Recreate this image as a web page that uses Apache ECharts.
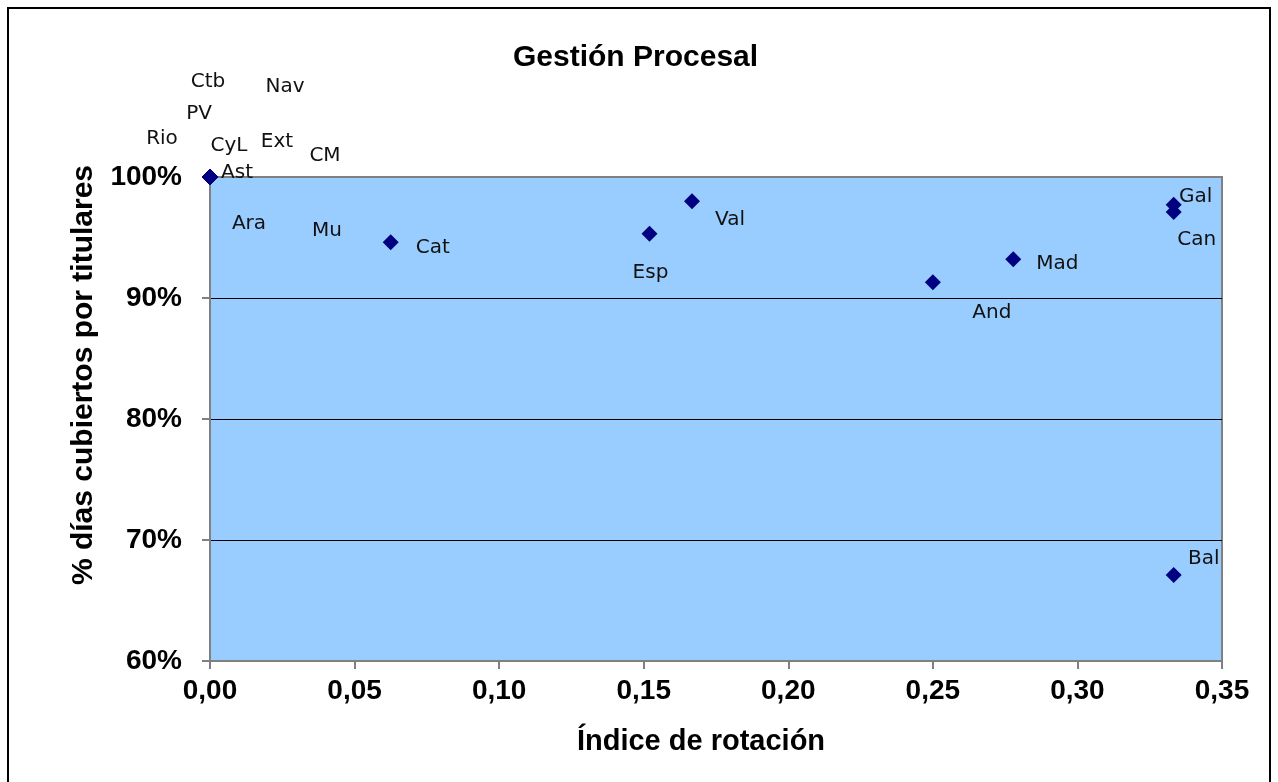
<!DOCTYPE html>
<html>
<head>
<meta charset="utf-8">
<script src="https://cdn.jsdelivr.net/npm/echarts@6/dist/echarts.min.js"></script>
<style>
  html, body { margin: 0; padding: 0; background: #fff; }
  #chart { width: 1278px; height: 782px; }
</style>
</head>
<body>
<div id="chart"></div>
<script>
// comunidades y valores (x = índice de rotación, y = % días cubiertos)
const regions = ['Ctb', 'PV', 'Rio', 'CyL', 'Nav', 'Ext', 'CM', 'Ast', 'Ara', 'Mu',
  'Cat', 'Esp', 'Val', 'And', 'Mad', 'Gal', 'Can', 'Bal'];
const rotation = [0, 0, 0, 0, 0, 0, 0, 0, 0, 0,
  0.0625, 0.152, 0.1667, 0.25, 0.2778, 0.3333, 0.3333, 0.3333];
const coverage = [100, 100, 100, 100, 100, 100, 100, 100, 100, 100,
  94.6, 95.3, 98.0, 91.3, 93.2, 97.7, 97.1, 67.1];
const xTicks = [0, 0.05, 0.1, 0.15, 0.2, 0.25, 0.3, 0.35];
const yTicks = [60, 70, 80, 90, 100];

// desplazamiento de cada etiqueta respecto a su punto (px)
const labelOffsets = {
  Ctb: [-2, -95], PV: [-11, -63], Rio: [-48, -38], CyL: [19, -31],
  Nav: [75, -90], Ext: [67, -35], CM: [115, -21], Ast: [27, -4],
  Ara: [39, 47], Mu: [117, 54], Cat: [42, 5], Esp: [1, 39],
  Val: [38, 19], And: [59, 31], Mad: [44, 5], Gal: [22, -8],
  Can: [23, 28], Bal: [30, -16]
};

const points = regions.map((name, i) => ({
  name: name,
  value: [rotation[i], coverage[i]],
  label: { offset: labelOffsets[name] }
}));

const chart = echarts.init(document.getElementById('chart'));

chart.setOption({
  animation: false,
  backgroundColor: '#fff',
  title: {
    text: 'Gestión Procesal',
    left: 508,
    top: 38,
    textStyle: { fontFamily: 'Liberation Sans, Arial', fontWeight: 'bold', fontSize: 30, color: '#000' }
  },
  grid: {
    left: 210, top: 177, width: 1012, height: 484,
    show: true,
    backgroundColor: '#99ccff',
    borderColor: '#808080',
    borderWidth: 2
  },
  xAxis: {
    type: 'value',
    min: xTicks[0],
    max: xTicks[xTicks.length - 1],
    interval: 0.05,
    axisLine: { show: true, lineStyle: { color: '#808080', width: 2 } },
    axisTick: { show: true, length: 8, lineStyle: { color: '#808080', width: 2 } },
    splitLine: { show: false },
    axisLabel: {
      margin: 16,
      fontFamily: 'Liberation Sans, Arial', fontWeight: 'bold', fontSize: 28, color: '#000',
      formatter: v => v.toFixed(2).replace('.', ',')
    }
  },
  yAxis: {
    type: 'value',
    min: yTicks[0],
    max: yTicks[yTicks.length - 1],
    interval: 10,
    axisLine: { show: true, lineStyle: { color: '#808080', width: 2 } },
    axisTick: { show: true, length: 8, lineStyle: { color: '#808080', width: 2 } },
    splitLine: { show: true, lineStyle: { color: ['#808080', '#000', '#000', '#000', '#808080'], width: 1 } },
    axisLabel: {
      margin: 28,
      fontFamily: 'Liberation Sans, Arial', fontWeight: 'bold', fontSize: 28, color: '#000',
      formatter: v => v + '%'
    }
  },
  graphic: [
    {
      type: 'rect',
      silent: true,
      z: -1,
      shape: { x: 8, y: 8, width: 1262, height: 790 },
      style: { fill: null, stroke: '#000', lineWidth: 2 }
    },
    {
      type: 'text',
      x: 701,
      y: 742,
      style: {
        text: 'Índice de rotación',
        font: 'bold 29px "Liberation Sans", Arial',
        fill: '#000',
        align: 'center',
        verticalAlign: 'middle'
      }
    },
    {
      type: 'text',
      x: 84,
      y: 375,
      rotation: Math.PI / 2,
      style: {
        text: '% días cubiertos por titulares',
        font: 'bold 30px "Liberation Sans", Arial',
        fill: '#000',
        align: 'center',
        verticalAlign: 'middle'
      }
    }
  ],
  series: [
    {
      type: 'scatter',
      clip: false,
      symbol: 'diamond',
      symbolSize: 16,
      itemStyle: { color: '#000080', opacity: 1 },
      label: {
        show: true,
        position: 'inside',
        formatter: '{b}',
        fontFamily: 'DejaVu Sans, Verdana',
        fontSize: 20,
        color: '#111'
      },
      data: points
    }
  ]
});
</script>
</body>
</html>
